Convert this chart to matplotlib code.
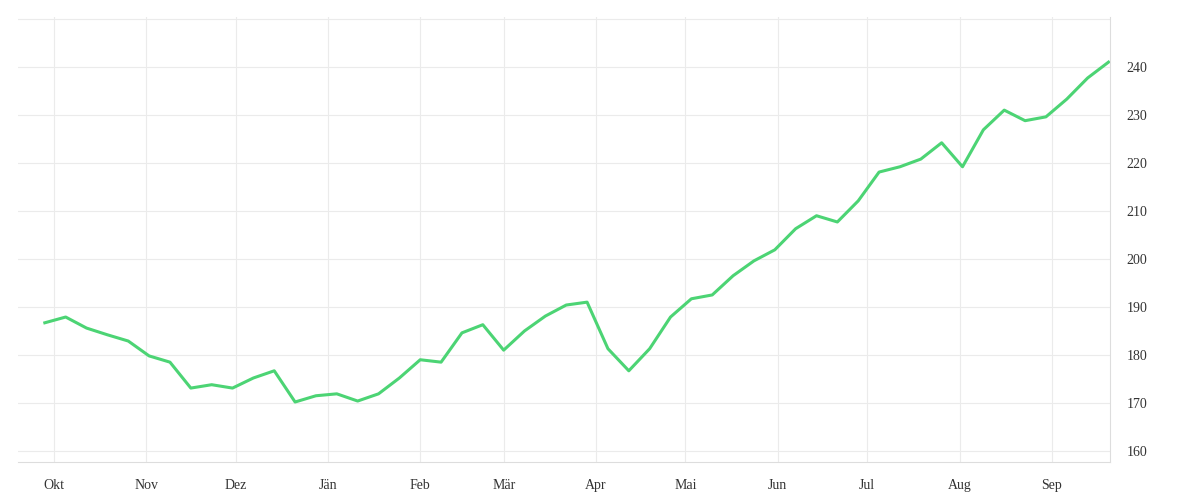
import matplotlib
matplotlib.use("Agg")
import matplotlib.pyplot as plt
import pandas as pd

dates = pd.date_range("2022-09-28", periods=52, freq="7D")
values = [186.7,187.9,185.6,184.2,182.9,179.8,178.5,173.1,173.8,173.1,175.2,176.7,
          170.2,171.5,171.9,170.4,171.9,175.2,179.0,178.5,184.6,186.3,181.0,185.0,
          188.1,190.4,191.0,181.3,176.7,181.3,187.9,191.7,192.5,196.5,199.6,201.9,
          206.3,209.0,207.7,212.1,218.1,219.2,220.8,224.2,219.2,226.9,231.0,228.8,
          229.6,233.3,237.7,241.0]
month_labels = ["Okt","Nov","Dez","Jän","Feb","Mär","Apr","Mai","Jun","Jul","Aug","Sep"]
month_ticks = pd.date_range("2022-10-01", periods=12, freq="MS")

plt.rcParams['font.family'] = ['Liberation Serif', 'DejaVu Serif']
fig = plt.figure(figsize=(12, 5), dpi=100)
ax = fig.add_axes([0.015, 0.076, 0.910, 0.89])
ax.plot(dates, values, color="#4cd474", lw=2.2)
ax.yaxis.tick_right()
ax.set_yticks(range(160, 250, 10))
ax.set_yticks([250], minor=True)
ax.set_xticks(month_ticks)
ax.set_xticklabels(month_labels)
ax.set_xlim(pd.Timestamp("2022-09-19"), dates[-1] + pd.Timedelta(days=0.5))
ax.set_ylim(157.7, 250.4)
ax.grid(True, which="both", color="#ebebeb", lw=0.8)
ax.tick_params(which="both", length=0, labelsize=10, colors="#333333")
ax.tick_params(axis="x", pad=12)
ax.tick_params(axis="y", pad=12)
ax.tick_params(which="minor", labelright=False)
for s in ["top", "left"]:
    ax.spines[s].set_visible(False)
for s in ["bottom", "right"]:
    ax.spines[s].set_color("#dddddd")
    ax.spines[s].set_linewidth(0.8)
fig.savefig("out.png")
